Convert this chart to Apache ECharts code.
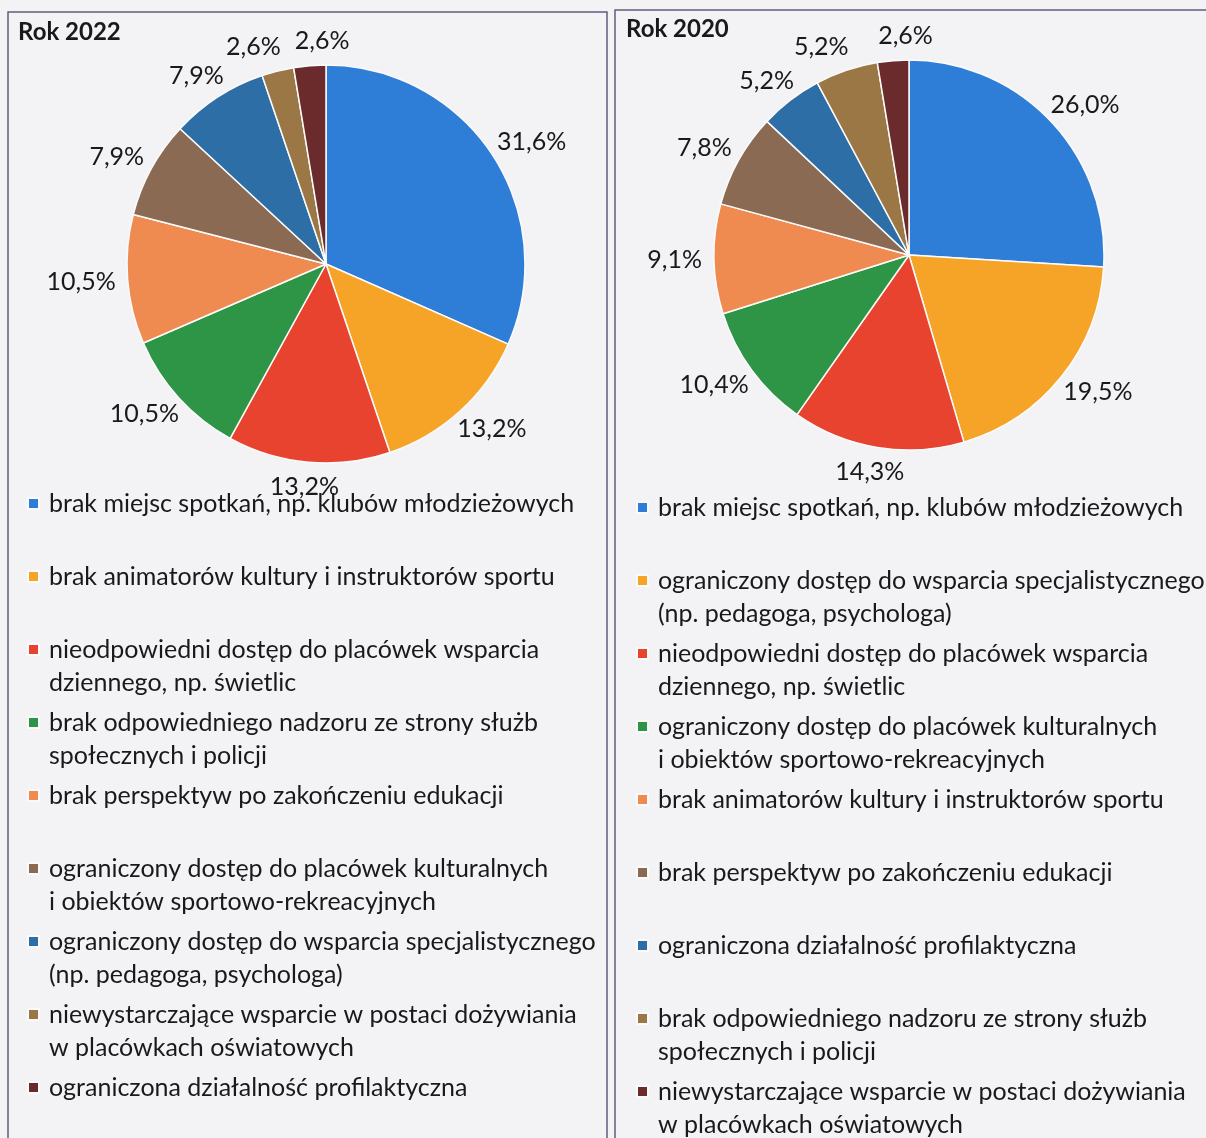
<!DOCTYPE html>
<html>
<head>
<meta charset="utf-8">
<script src="https://cdn.jsdelivr.net/npm/echarts@6/dist/echarts.min.js"></script>
<style>
  html, body { margin: 0; padding: 0; background: #f3f3f5; }
  #chart { width: 1206px; height: 1138px; }
</style>
</head>
<body>
<div id="chart"></div>
<script>
// slice colours, same order in both years (clockwise from 12 o'clock)
const COLORS = ['#2e7dd6', '#f5a427', '#e8432f', '#2e9446', '#ef8a50', '#8a6a53', '#2d6ea7', '#9b7745', '#6b2b2d'];

const names2022 = [
  'brak miejsc spotkań, np. klubów młodzieżowych',
  'brak animatorów kultury i instruktorów sportu',
  'nieodpowiedni dostęp do placówek wsparcia\ndziennego, np. świetlic',
  'brak odpowiedniego nadzoru ze strony służb\nspołecznych i policji',
  'brak perspektyw po zakończeniu edukacji',
  'ograniczony dostęp do placówek kulturalnych\ni obiektów sportowo-rekreacyjnych',
  'ograniczony dostęp do wsparcia specjalistycznego\n(np. pedagoga, psychologa)',
  'niewystarczające wsparcie w postaci dożywiania\nw placówkach oświatowych',
  'ograniczona działalność profilaktyczna'
];
const values2022 = [31.6, 13.2, 13.2, 10.5, 10.5, 7.9, 7.9, 2.6, 2.6];

const names2020 = [
  'brak miejsc spotkań, np. klubów młodzieżowych',
  'ograniczony dostęp do wsparcia specjalistycznego\n(np. pedagoga, psychologa)',
  'nieodpowiedni dostęp do placówek wsparcia\ndziennego, np. świetlic',
  'ograniczony dostęp do placówek kulturalnych\ni obiektów sportowo-rekreacyjnych',
  'brak animatorów kultury i instruktorów sportu',
  'brak perspektyw po zakończeniu edukacji',
  'ograniczona działalność profilaktyczna',
  'brak odpowiedniego nadzoru ze strony służb\nspołecznych i policji',
  'niewystarczające wsparcie w postaci dożywiania\nw placówkach oświatowych'
];
const values2020 = [26.0, 19.5, 14.3, 10.4, 9.1, 7.8, 5.2, 5.2, 2.6];

const TITLES = ['Rok 2022', 'Rok 2020'];

const FONT = 'Lato';
const TEXT = '#19191b';
const FONT_SIZE = 25;

function pct(v) {
  return v.toFixed(1).replace('.', ',') + '%';
}

// legend rows are always 3 lines: empty, first line, second line,
// so the square sits next to the first line
function legendText(name) {
  return '\n' + name + (name.indexOf('\n') < 0 ? '\n ' : '');
}

// put the label just outside the rim, centred on the slice direction
function makeLabelLayout(values, cx, cy, r) {
  const total = values.reduce((a, b) => a + b, 0);
  return function (p) {
    let ex, ey, ux, uy;
    const pts = p.labelLinePoints;
    if (pts && pts.length > 1) {
      const dx = pts[1][0] - pts[0][0];
      const dy = pts[1][1] - pts[0][1];
      const len = Math.sqrt(dx * dx + dy * dy) || 1;
      ux = dx / len;
      uy = dy / len;
      ex = pts[0][0];
      ey = pts[0][1];
    } else {
      let before = 0;
      for (let i = 0; i < p.dataIndex; i++) before += values[i];
      const ang = (before + values[p.dataIndex] / 2) / total * Math.PI * 2;
      ux = Math.sin(ang);
      uy = -Math.cos(ang);
      ex = cx + ux * r;
      ey = cy + uy * r;
    }
    const gap = 12;
    const w = p.labelRect.width;
    const h = p.labelRect.height;
    const res = {
      x: ex + ux * (gap + w / 2),
      y: ey + uy * (gap + h / 2),
      align: 'center',
      verticalAlign: 'middle'
    };
    // the two thin slices at the top: their labels sit either side of the split
    if (p.dataIndex === values.length - 2) {
      res.x = ex + ux * gap + 6;
      res.align = 'right';
    } else if (p.dataIndex === values.length - 1) {
      res.x = ex + ux * gap - 14;
      res.align = 'left';
    }
    return res;
  };
}

function pieSeries(names, values, cx, cy, r) {
  return {
    type: 'pie',
    center: [cx, cy],
    radius: r,
    startAngle: 90,
    clockwise: true,
    avoidLabelOverlap: false,
    data: names.map((n, i) => ({ name: n, value: values[i], itemStyle: { color: COLORS[i] } })),
    itemStyle: { borderColor: '#fbfbfb', borderWidth: 1.5 },
    label: {
      show: true,
      position: 'outside',
      formatter: (p) => pct(p.value),
      fontFamily: FONT,
      fontSize: FONT_SIZE,
      color: TEXT,
      overflow: 'none'
    },
    labelLine: { show: true, length: 10, length2: 0, lineStyle: { opacity: 0 } },
    labelLayout: makeLabelLayout(values, cx, cy, r),
    emphasis: { disabled: true }
  };
}

function legend(names, left, top) {
  return {
    orient: 'vertical',
    left: left,
    top: top,
    height: 720,
    padding: 0,
    itemGap: -26,
    itemWidth: 11,
    itemHeight: 11,
    icon: 'rect',
    selectedMode: false,
    data: names.map((n, i) => ({ name: n, itemStyle: { color: COLORS[i] } })),
    formatter: legendText,
    textStyle: {
      fontFamily: FONT,
      fontSize: FONT_SIZE,
      lineHeight: 33,
      color: TEXT,
      padding: [0, 0, 0, 5]
    }
  };
}

const chart = echarts.init(document.getElementById('chart'));
chart.setOption({
  backgroundColor: '#f3f3f5',
  animation: false,
  title: [
    { text: TITLES[0], left: 18, top: 20, padding: 0,
      textStyle: { fontFamily: FONT, fontSize: 24, fontWeight: 'bold', color: TEXT } },
    { text: TITLES[1], left: 626, top: 17, padding: 0,
      textStyle: { fontFamily: FONT, fontSize: 24, fontWeight: 'bold', color: TEXT } }
  ],
  legend: [
    legend(names2022, 27, 454),
    legend(names2020, 636, 458)
  ],
  graphic: [
    { type: 'rect', silent: true, shape: { x: 8, y: 12, width: 599, height: 1160 },
      style: { fill: 'none', stroke: '#5d5f7e', lineWidth: 1.5 } },
    { type: 'rect', silent: true, shape: { x: 615, y: 10, width: 620, height: 1160 },
      style: { fill: 'none', stroke: '#5d5f7e', lineWidth: 1.5 } }
  ],
  series: [
    pieSeries(names2022, values2022, 326, 264, 199),
    pieSeries(names2020, values2020, 909, 255, 195)
  ]
});
</script>
</body>
</html>
